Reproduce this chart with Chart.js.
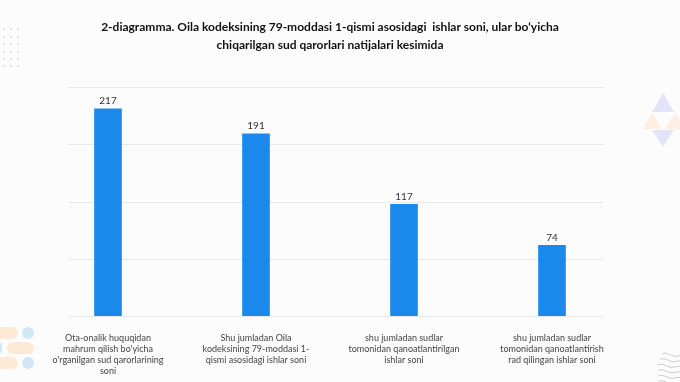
<!DOCTYPE html>
<html>
<head>
<meta charset="utf-8">
<script src="https://cdn.jsdelivr.net/npm/chart.js@4/dist/chart.umd.min.js"></script>
<style>
  html, body { margin: 0; padding: 0; background: #fdfcfd; }
  #wrap { width: 680px; height: 382px; position: relative; }
</style>
</head>
<body>
<div id="wrap"><canvas id="c" width="680" height="382"></canvas></div>
<script>
const titleLines = [
  "2-diagramma. Oila kodeksining 79-moddasi 1-qismi asosidagi  ishlar soni, ular bo\u2018yicha",
  "chiqarilgan sud qarorlari natijalari kesimida"
];
const categories = [
  ["Ota-onalik huquqidan", "mahrum qilish bo'yicha", "o'rganilgan sud qarorlarining", "soni"],
  ["Shu jumladan Oila", "kodeksining 79-moddasi 1-", "qismi asosidagi ishlar soni"],
  ["shu jumladan sudlar", "tomonidan qanoatlantirilgan", "ishlar soni"],
  ["shu jumladan sudlar", "tomonidan qanoatlantirish", "rad qilingan ishlar soni"]
];
const values = [217, 191, 117, 74];
const yMax = 240;
const yStep = 60;

const decor = {
  id: 'decor',
  beforeDraw(chart) {
    const ctx = chart.ctx;
    ctx.save();
    ctx.fillStyle = '#fdfcfd';
    ctx.fillRect(0, 0, chart.width, chart.height);
    ctx.fillStyle = 'rgba(200,195,205,0.45)';
    [3, 10, 17].forEach(x => {
      [28, 36, 43, 51, 58, 65].forEach(y => ctx.fillRect(x, y, 2, 2));
    });
    const pill = (x, y, w, h, c) => {
      ctx.fillStyle = c;
      ctx.beginPath();
      ctx.roundRect(x, y, w, h, h / 2);
      ctx.fill();
    };
    const orange = 'rgba(253,225,200,0.75)';
    const blue = 'rgba(200,228,242,0.85)';
    pill(-6, 327, 24, 12, orange);
    pill(22, 327, 12, 12, blue);
    pill(-6, 342, 8, 12, blue);
    pill(7, 342, 27, 12, orange);
    pill(-6, 357, 24, 12, orange);
    pill(22, 357, 12, 12, blue);
    const tri = (x1, y1, x2, y2, x3, y3, c) => {
      ctx.fillStyle = c;
      ctx.beginPath();
      ctx.moveTo(x1, y1); ctx.lineTo(x2, y2); ctx.lineTo(x3, y3);
      ctx.closePath(); ctx.fill();
    };
    const tb = 'rgba(215,218,245,0.7)';
    const to = 'rgba(252,232,212,0.7)';
    tri(663, 93, 652, 112, 674, 112, tb);
    tri(652, 113, 643, 129, 662, 129, to);
    tri(675, 113, 665, 129, 686, 129, to);
    tri(663, 147, 652, 130, 674, 130, tb);
    ctx.strokeStyle = 'rgba(150,150,155,0.6)';
    ctx.lineWidth = 0.8;
    for (let i = 0; i < 6; i++) {
      const y0 = 354 + i * 5.5;
      const x0 = 662 - (i < 3 ? i * 2 : 4);
      ctx.beginPath();
      ctx.moveTo(x0, y0);
      ctx.bezierCurveTo(x0 + 6, y0 - 3, x0 + 10, y0 + 4, x0 + 16, y0 + 2);
      ctx.bezierCurveTo(x0 + 20, y0, x0 + 24, y0 + 3, x0 + 30, y0 + 1);
      ctx.stroke();
    }
    ctx.restore();
  },
  beforeDatasetsDraw(chart) {
    const ctx = chart.ctx;
    const ys = chart.scales.y;
    const area = chart.chartArea;
    ctx.save();
    ctx.strokeStyle = '#ebe8ec';
    ctx.lineWidth = 1;
    ys.ticks.forEach(t => {
      const y = Math.round(ys.getPixelForValue(t.value)) + 0.5;
      ctx.beginPath();
      ctx.moveTo(area.left + 35, y);
      ctx.lineTo(area.right - 23, y);
      ctx.stroke();
    });
    ctx.restore();
  },
  afterDatasetsDraw(chart) {
    const ctx = chart.ctx;
    const meta = chart.getDatasetMeta(0);
    ctx.save();
    ctx.fillStyle = '#333';
    ctx.font = '10px Lato, sans-serif';
    ctx.textAlign = 'center';
    ctx.textBaseline = 'middle';
    meta.data.forEach((bar, i) => {
      ctx.fillText(String(values[i]), bar.x, bar.y - 8);
    });
    ctx.restore();
  }
};

new Chart(document.getElementById('c'), {
  type: 'bar',
  data: {
    labels: categories,
    datasets: [{
      data: values,
      backgroundColor: '#1b89ec',
      borderWidth: 0,
      barThickness: 27
    }]
  },
  options: {
    responsive: false,
    animation: false,
    layout: { padding: { left: 34, right: 54, top: 0, bottom: -3 } },
    plugins: {
      legend: { display: false },
      tooltip: { enabled: false },
      title: {
        display: true,
        text: titleLines,
        color: '#111',
        font: { family: 'Lato, sans-serif', size: 12, weight: 'bold', lineHeight: 1.5 },
        padding: { top: 18, bottom: 33 }
      }
    },
    scales: {
      x: {
        grid: { display: false },
        border: { display: false },
        ticks: {
          color: '#444',
          font: { family: 'Lato, sans-serif', size: 9, lineHeight: 1.25 },
          padding: 8,
          maxRotation: 0,
          autoSkip: false
        }
      },
      y: {
        display: false,
        min: 0,
        max: yMax,
        ticks: { stepSize: yStep }
      }
    }
  },
  plugins: [decor]
});
</script>
</body>
</html>
